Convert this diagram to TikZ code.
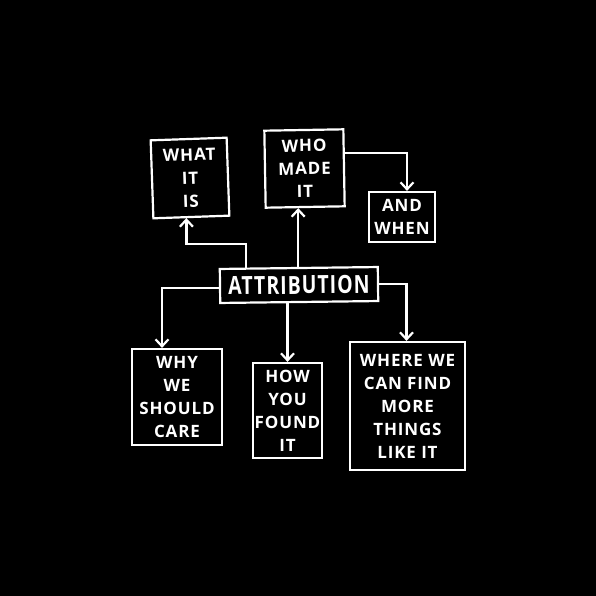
\documentclass[tikz,border=0pt]{standalone}
\usepackage{fontspec}
\setmainfont{Open Sans}[LetterSpace=5]
\newfontfamily\attrfont{Open Sans}[FakeStretch=0.78,LetterSpace=4]
\usetikzlibrary{arrows.meta,calc}
\begin{document}
\begin{tikzpicture}[x=1pt,y=-1pt,
  box/.style={draw=white,line width=2.2pt,rectangle,inner sep=0pt,text=white,align=center,
    font=\bfseries\fontsize{17}{23}\selectfont},
  arr/.style={draw=white,line width=2.2pt,-{Straight Barb[length=7pt,width=13pt,line width=2.2pt]}}]
\fill[black] (0,0) rectangle (596,596);
\useasboundingbox (0,0) rectangle (596,596);
\node[box,minimum width=76pt,minimum height=78pt,rotate=2] (what) at (190,178) {WHAT\\IT\\IS};
\node[box,minimum width=79pt,minimum height=77pt,rotate=1] (who) at (304.5,168.5) {WHO\\MADE\\IT};
\node[box,minimum width=66pt,minimum height=50pt] (when) at (402,217) {AND\\WHEN};
\node[box,minimum width=158pt,minimum height=34pt,rotate=0.7,font=\attrfont\bfseries\fontsize{25}{26}\selectfont] (attr) at (299,285) {ATTRIBUTION};
\node[box,minimum width=90pt,minimum height=96pt] (why) at (177,397) {WHY\\WE\\SHOULD\\CARE};
\node[box,minimum width=69pt,minimum height=95pt] (how) at (287.5,410.5) {HOW\\YOU\\FOUND\\IT};
\node[box,minimum width=115pt,minimum height=128pt] (where) at (407.5,406) {WHERE WE\\CAN FIND\\MORE\\THINGS\\LIKE IT};
\coordinate (whatin) at ([xshift=-5pt]what.south);
\coordinate (whoin) at ([xshift=-7pt]who.south);
\coordinate (whyin) at ([xshift=-15pt]why.north);
\coordinate (wherein) at ([xshift=-1pt]where.north);
\coordinate (attrup) at ([xshift=27pt]attr.north west);
\draw[arr] (attrup) |- ([yshift=-26pt]whatin) -- (whatin);
\draw[arr] (attr.north -| whoin) -- (whoin);
\draw[arr] ([yshift=15pt]who.east) -| ([xshift=5pt]when.north);
\draw[arr] ([yshift=-2pt]attr.west) -| (whyin);
\draw[arr] (how.north |- attr.south) -- (how.north);
\draw[arr] (attr.east) -| (wherein);
\end{tikzpicture}
\end{document}
